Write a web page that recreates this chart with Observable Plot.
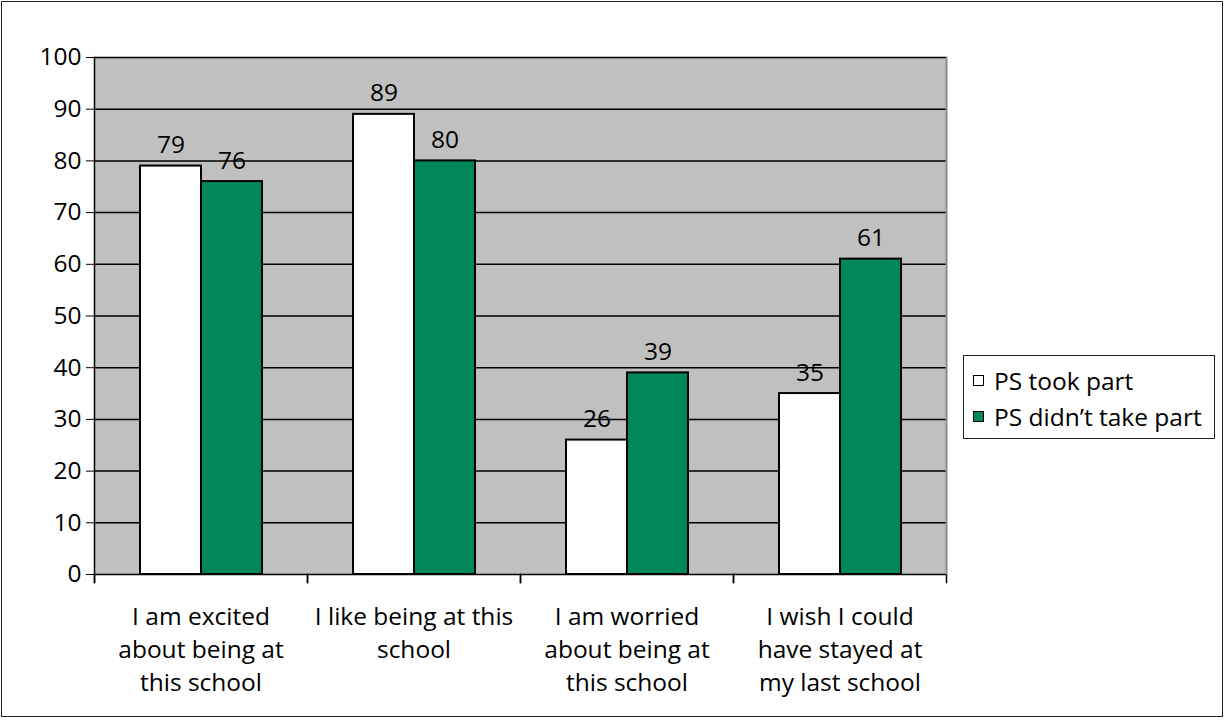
<!DOCTYPE html>
<html>
<head>
<meta charset="utf-8">
<script src="https://cdn.jsdelivr.net/npm/d3@7"></script>
<script src="https://cdn.jsdelivr.net/npm/@observablehq/plot@0.6"></script>
<style>
  html, body { margin: 0; padding: 0; background: #fff; }
  #wrap { position: relative; width: 1226px; height: 720px; overflow: hidden; font-family: "Open Sans", sans-serif; }
  #chart { position: absolute; left: 0; top: 0; }
  #border { position: absolute; left: 1px; top: 1px; width: 1220px; height: 714px; border: 1.5px solid #222; }
  #legend { position: absolute; left: 963px; top: 355px; width: 252px; height: 84px; border: 1.5px solid #222; box-sizing: border-box; background: #fff; }
  .item { position: absolute; left: 9px; height: 30px; display: flex; align-items: center; font-size: 24.5px; color: #000; white-space: nowrap; }
  .sw { width: 11px; height: 11px; border: 1.3px solid #000; margin-right: 10px; box-sizing: border-box; }
</style>
</head>
<body>
<div id="wrap">
  <div id="chart"></div>
  <div id="border"></div>
  <div id="legend"></div>
</div>
<script>
const categories = [
  "I am excited\nabout being at\nthis school",
  "I like being at this\nschool",
  "I am worried\nabout being at\nthis school",
  "I wish I could\nhave stayed at\nmy last school"
];
const series = ["PS took part", "PS didn\u2019t take part"];
const tookPart = [79, 89, 26, 35];
const didntTakePart = [76, 80, 39, 61];
const yTicks = [0, 10, 20, 30, 40, 50, 60, 70, 80, 90, 100];
const colors = ["#ffffff", "#00875a"];

const data = categories.flatMap((c, i) => [
  {category: c, series: series[0], value: tookPart[i]},
  {category: c, series: series[1], value: didntTakePart[i]}
]);

const W = 1226, H = 720, mL = 94, mR = 280, mT = 57, mB = 146;
const plotH = H - mT - mB;

const chart = Plot.plot({
  width: W, height: H,
  marginLeft: mL, marginRight: mR, marginTop: mT, marginBottom: mB,
  style: {fontFamily: "'Open Sans', sans-serif", fontSize: "24.5px", color: "#000", background: "transparent", overflow: "visible"},
  fx: {domain: categories, padding: 0, label: null},
  x: {domain: series, paddingInner: 0, paddingOuter: 0.73, axis: null},
  y: {domain: [0, 100], label: null},
  color: {domain: series, range: colors},
  marks: [
    Plot.frame({facet: "super", fill: "#c0c0c0", stroke: "none"}),
    Plot.ruleY(yTicks.filter(v => v > 0), {stroke: "#000", strokeWidth: 1.5}),
    Plot.barY(data, {fx: "category", x: "series", y: "value", fill: "series", stroke: "#000", strokeWidth: 2, inset: 0}),
    Plot.text(data, {fx: "category", x: "series", y: "value", text: d => String(d.value), lineAnchor: "bottom", dy: -13, fontSize: 24.5, fill: "#000"}),
    Plot.ruleY([0], {stroke: "#000", strokeWidth: 1.5}),
    Plot.frame({anchor: "left", insetTop: plotH, insetBottom: -8, stroke: "#000", strokeWidth: 1.5}),
    Plot.frame({anchor: "right", insetTop: plotH, insetBottom: -8, stroke: "#000", strokeWidth: 1.5}),
    Plot.frame({facet: "super", anchor: "right", insetBottom: 1, stroke: "#8a8a8a", strokeWidth: 2}),
    Plot.frame({facet: "super", anchor: "left", insetBottom: -8, stroke: "#000", strokeWidth: 1.5}),
    Plot.axisY({ticks: yTicks, tickSize: 8, tickPadding: 5, fontSize: 24.5, label: null}),
    Plot.axisFx({anchor: "bottom", tickSize: 0, tickPadding: 27, lineHeight: 1.35, fontSize: 24.5, label: null})
  ]
});
document.getElementById("chart").appendChild(chart);

const legend = document.getElementById("legend");
series.forEach((s, i) => {
  const item = document.createElement("div");
  item.className = "item";
  item.style.top = (9 + i * 36) + "px";
  const sw = document.createElement("div");
  sw.className = "sw";
  sw.style.background = colors[i];
  const label = document.createElement("span");
  label.textContent = s;
  item.appendChild(sw);
  item.appendChild(label);
  legend.appendChild(item);
});
</script>
</body>
</html>
